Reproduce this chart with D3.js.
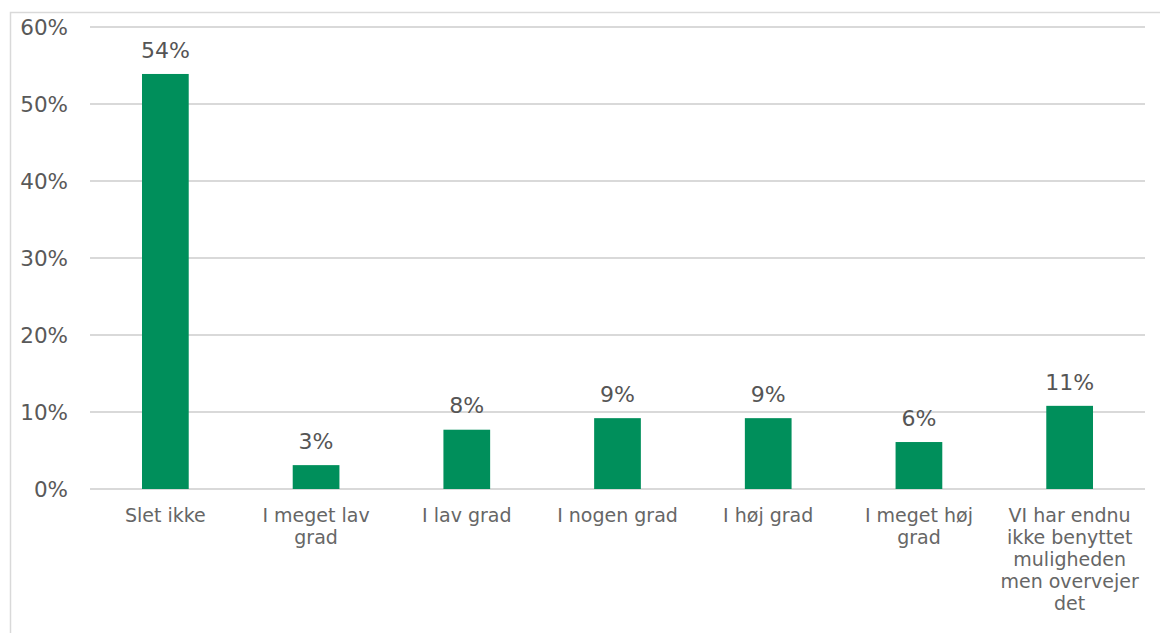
<!DOCTYPE html>
<html>
<head>
<meta charset="utf-8">
<script src="https://cdn.jsdelivr.net/npm/d3@7"></script>
<style>
  body { margin: 0; background: #fff; }
  text { font-family: Verdana, "DejaVu Sans", sans-serif; }
</style>
</head>
<body>
<div id="chart"></div>
<script>
const categories = ["Slet ikke", "I meget lav grad", "I lav grad", "I nogen grad", "I høj grad", "I meget høj grad", "VI har endnu ikke benyttet muligheden men overvejer det"]
const values = [0.539, 0.031, 0.077, 0.092, 0.092, 0.061, 0.108]
const labels = ["54%", "3%", "8%", "9%", "9%", "6%", "11%"]
const ticks = [0, 0.1, 0.2, 0.3, 0.4, 0.5, 0.6]

const width = 1160
const height = 633
const margin = { top: 27, right: 15, bottom: 144, left: 90 }

const svg = d3.select("#chart")
    .append("svg")
    .attr("width", width)
    .attr("height", height)

// outer chart frame (only left and top visible)
svg.append("rect")
    .attr("x", 10.5)
    .attr("y", 12.5)
    .attr("width", width)
    .attr("height", height)
    .attr("fill", "none")
    .attr("stroke", "#d9d9d9")
    .attr("stroke-width", 1.5)

const x = d3.scaleBand()
    .domain(categories)
    .range([margin.left, width - margin.right])
    .paddingInner(0.69)
    .paddingOuter(0.345)

const y = d3.scaleLinear()
    .domain([0, 0.6])
    .range([height - margin.bottom, margin.top])

// gridlines
svg.append("g")
    .selectAll("line")
    .data(ticks)
    .join("line")
    .attr("x1", margin.left)
    .attr("x2", width - margin.right)
    .attr("y1", d => y(d))
    .attr("y2", d => y(d))
    .attr("stroke", "#d9d9d9")
    .attr("stroke-width", 2)

// y axis labels
const yAxis = svg.append("g")
    .attr("transform", `translate(${margin.left - 22},0)`)
    .call(d3.axisLeft(y).tickValues(ticks).tickFormat(d3.format(".0%")).tickSize(0).tickPadding(0))
yAxis.select(".domain").remove()
yAxis.selectAll("text")
    .attr("fill", "#595959")
    .style("font-size", "21.5px")
    .attr("dy", "0.35em")

// bars
svg.append("g")
    .selectAll("rect")
    .data(values)
    .join("rect")
    .attr("x", (d, i) => x(categories[i]))
    .attr("y", d => y(d))
    .attr("width", x.bandwidth())
    .attr("height", d => y(0) - y(d))
    .attr("fill", "#008f5b")

// data labels
svg.append("g")
    .selectAll("text")
    .data(values)
    .join("text")
    .attr("x", (d, i) => x(categories[i]) + x.bandwidth() / 2)
    .attr("y", d => y(d) - 24)
    .attr("dy", "0.35em")
    .attr("text-anchor", "middle")
    .attr("fill", "#555")
    .style("font-size", "22px")
    .text((d, i) => labels[i])

// x axis labels
const xAxis = svg.append("g")
    .attr("transform", `translate(0,${y(0)})`)
    .call(d3.axisBottom(x).tickSize(0).tickPadding(0))
xAxis.select(".domain").remove()
xAxis.selectAll("text")
    .attr("fill", "#666")
    .style("font-size", "19px")
    .attr("y", 26)
    .attr("dy", "0.35em")
    .call(wrap, 145)

function wrap(texts, maxWidth) {
  texts.each(function () {
    const text = d3.select(this)
    const words = text.text().split(/\s+/)
    const ty = text.attr("y")
    text.text(null)
    let line = []
    let lineNo = 0
    let tspan = text.append("tspan").attr("x", 0).attr("y", ty).attr("dy", "0.35em")
    words.forEach(word => {
      line.push(word)
      tspan.text(line.join(" "))
      if (tspan.node().getComputedTextLength() > maxWidth && line.length > 1) {
        line.pop()
        tspan.text(line.join(" "))
        line = [word]
        lineNo += 1
        tspan = text.append("tspan")
            .attr("x", 0)
            .attr("y", ty)
            .attr("dy", (0.35 + lineNo * 1.16) + "em")
            .text(word)
      }
    })
  })
}
</script>
</body>
</html>
